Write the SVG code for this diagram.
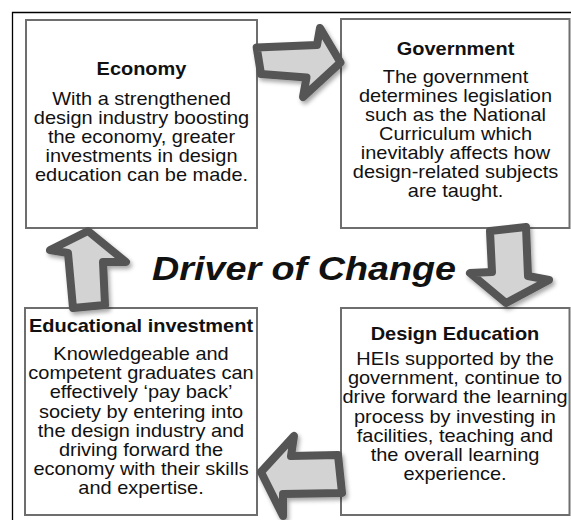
<svg xmlns="http://www.w3.org/2000/svg" width="571" height="520" viewBox="0 0 571 520">
<defs>
<filter id="sh" x="-20%" y="-20%" width="150%" height="150%">
<feDropShadow dx="2" dy="3" stdDeviation="2" flood-color="#000" flood-opacity="0.35"/>
</filter>
<style>
.box{fill:#fff;stroke:#6e6e6e;stroke-width:2}
.arr{fill:#d3d3d3;stroke:#555;stroke-width:8;stroke-linejoin:round;filter:url(#sh)}
text{font-family:"Liberation Sans",Arial,sans-serif;fill:#111;text-anchor:middle}
.t{font-size:18px;font-weight:bold}
.b{font-size:18px}
.main{font-size:34px;font-weight:bold;font-style:italic}
</style>
</defs>
<rect width="571" height="520" fill="#fff"/>
<path d="M12.5,520 V12.5 H571" fill="none" stroke="#000" stroke-width="1.3"/>

<g id="economy">
<rect class="box" x="26" y="20" width="231" height="208"/>
<g transform="translate(141.5,0) scale(1.11,1)">
<text class="t" x="0" y="75">Economy</text>
<text class="b" x="0" y="105">With a strengthened</text>
<text class="b" x="0" y="124">design industry boosting</text>
<text class="b" x="0" y="143">the economy, greater</text>
<text class="b" x="0" y="162">investments in design</text>
<text class="b" x="0" y="181">education can be made.</text>
</g>
</g>

<g id="government">
<rect class="box" x="341" y="19" width="228.5" height="209"/>
<g transform="translate(455.5,0) scale(1.11,1)">
<text class="t" x="0" y="55">Government</text>
<text class="b" x="0" y="83">The government</text>
<text class="b" x="0" y="102">determines legislation</text>
<text class="b" x="0" y="121">such as the National</text>
<text class="b" x="0" y="140">Curriculum which</text>
<text class="b" x="0" y="159">inevitably affects how</text>
<text class="b" x="0" y="178">design-related subjects</text>
<text class="b" x="0" y="197">are taught.</text>
</g>
</g>

<g id="educational-investment">
<rect class="box" x="25" y="308" width="232" height="207"/>
<g transform="translate(141,0) scale(1.11,1)">
<text class="t" x="0" y="332">Educational investment</text>
<text class="b" x="0" y="360">Knowledgeable and</text>
<text class="b" x="0" y="379.2">competent graduates can</text>
<text class="b" x="0" y="398.4">effectively ‘pay back’</text>
<text class="b" x="0" y="417.6">society by entering into</text>
<text class="b" x="0" y="436.8">the design industry and</text>
<text class="b" x="0" y="456">driving forward the</text>
<text class="b" x="0" y="475.2">economy with their skills</text>
<text class="b" x="0" y="494.4">and expertise.</text>
</g>
</g>

<g id="design-education">
<rect class="box" x="341" y="308" width="228.5" height="207"/>
<g transform="translate(455,0) scale(1.11,1)">
<text class="t" x="0" y="340">Design Education</text>
<text class="b" x="0" y="365">HEIs supported by the</text>
<text class="b" x="0" y="384.2">government, continue to</text>
<text class="b" x="0" y="403.4">drive forward the learning</text>
<text class="b" x="0" y="422.6">process by investing in</text>
<text class="b" x="0" y="441.8">facilities, teaching and</text>
<text class="b" x="0" y="461">the overall learning</text>
<text class="b" x="0" y="480.2">experience.</text>
</g>
</g>

<g id="title">
<g transform="translate(304,0) scale(1.11,1)">
<text class="main" x="0" y="280">Driver of Change</text>
</g>
</g>

<g id="connectors">
<path class="arr" d="M256.7,47.5 L317,45 L320,28 L340.5,62.5 L303,97 L306.5,77.5 L261,74 Z"/>
<path class="arr" d="M490,231 L526,227 L528,276 L549,280 L506,303 L470,273 L492,272 Z"/>
<path class="arr" d="M338,455 L342,493 L283,494 L283,516 L261,472 L294,436 L291,456 Z"/>
<path class="arr" d="M88,231 L126,262 L103,262 L105,305 L73,308 L68,253 L50,250 Z"/>
</g>
</svg>
